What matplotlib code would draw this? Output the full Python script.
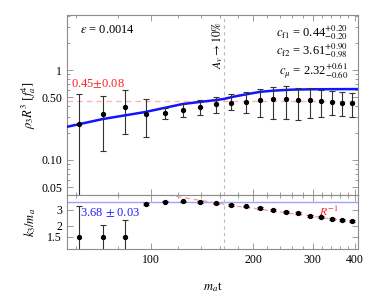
import matplotlib
matplotlib.use("Agg")
import matplotlib.pyplot as plt
from matplotlib.ticker import FixedLocator, NullFormatter, FixedFormatter, LogLocator

plt.rcParams['font.family'] = ['Liberation Serif', 'DejaVu Serif']
plt.rcParams['mathtext.fontset'] = 'stix'

# ---- data ----
t = [61.2, 72.1, 83.8, 96.4, 109.6, 124.2, 139.6, 156, 172.6, 190.6, 209.2,
     229.4, 249.5, 271.7, 293.6, 317.6, 342, 367, 392.7]
rho = [0.249, 0.322, 0.392, 0.327, 0.336, 0.362, 0.385, 0.416, 0.426, 0.444,
       0.464, 0.472, 0.476, 0.461, 0.461, 0.453, 0.437, 0.426, 0.426]
rho_hi = [0.537, 0.518, 0.594, 0.472, 0.381, 0.416, 0.464, 0.505, 0.537, 0.569,
          0.615, 0.647, 0.664, 0.631, 0.626, 0.599, 0.584, 0.565, 0.551]
rho_lo = [0.02, 0.126, 0.196, 0.18, 0.283, 0.303, 0.314, 0.335, 0.359, 0.335,
          0.30, 0.287, 0.283, 0.278, 0.29, 0.303, 0.316, 0.308, 0.303]

curve_t = [56.6, 72, 96, 124, 156, 164.5, 175, 191, 210, 229, 260, 300, 410]
curve_rho = [0.234, 0.285, 0.341, 0.419, 0.464, 0.478, 0.505, 0.537, 0.572,
             0.589, 0.605, 0.611, 0.614]

k3 = [1.5, 1.5, 1.5, 3.49, 3.71, 3.75, 3.68, 3.56, 3.40, 3.29, 3.14, 2.99,
      2.86, 2.79, 2.58, 2.52, 2.39, 2.33, 2.26]
k3_hi = [3.33, 2.05, 2.34, 3.56, 3.78, 3.82, 3.75, 3.63, 3.47, 3.36, 3.21,
         3.06, 2.92, 2.85, 2.64, 2.58, 2.45, 2.39, 2.32]
k3_lo = [0.9, 0.9, 0.9, 3.42, 3.64, 3.68, 3.61, 3.49, 3.33, 3.22, 3.07, 2.92,
         2.80, 2.73, 2.52, 2.46, 2.33, 2.27, 2.20]

rinv_t = [112, 171, 407]
rinv_k = [4.42, 3.39, 2.17]

rho_fit = 0.45
k3_fit = 3.68
t_av = 164.5

xticks_major = [100, 200, 300, 400]
xticks_minor = [60, 80, 120, 140, 160, 180, 220, 240, 260, 280, 320, 340, 360, 380]
yticks_top = [0.05, 0.1, 0.5, 1]
yticks_top_lbl = ['0.05', '0.10', '0.50', '1']
yticks_bot = [1.5, 2, 3]
yticks_bot_lbl = ['1.5', '2', '3']

# ---- figure ----
W, H = 374, 300
fig = plt.figure(figsize=(W/100, H/100), dpi=100)
L, R = 67/W, 358/W
ax1 = fig.add_axes([L, 1-195/H, R-L, (195-14.5)/H])
ax2 = fig.add_axes([L, 1-249/H, R-L, (249-195)/H])

frame_col = '#8c8c8c'
fs = 8.5

def style(ax):
    ax.set_xscale('log')
    ax.set_yscale('log')
    ax.set_xlim(56.5, 408)
    for s in ax.spines.values():
        s.set_color(frame_col)
        s.set_linewidth(0.8)
    ax.tick_params(which='both', direction='in', top=True, right=True,
                   color=frame_col, labelsize=fs, width=0.6)
    ax.tick_params(which='major', length=4)
    ax.tick_params(which='minor', length=2)
    ax.xaxis.set_major_locator(FixedLocator(xticks_major))
    ax.xaxis.set_minor_locator(FixedLocator(xticks_minor))
    ax.xaxis.set_minor_formatter(NullFormatter())

style(ax1)
style(ax2)

# top panel
ax1.set_ylim(0.0408, 4.14)
ax1.yaxis.set_major_locator(FixedLocator(yticks_top))
ax1.yaxis.set_major_formatter(FixedFormatter(yticks_top_lbl))
ax1.yaxis.set_minor_locator(LogLocator(base=10, subs=[2, 3, 4, 6, 7, 8, 9]))
ax1.yaxis.set_minor_formatter(NullFormatter())
ax1.xaxis.set_major_formatter(NullFormatter())

ax1.axhline(rho_fit, color='#ffb3b3', ls=(0, (4, 3)), lw=1.0, zorder=1)
ax1.axvline(t_av, color='#bbbbbb', ls=(0, (3, 3)), lw=0.8, zorder=1)
ax1.plot(curve_t, curve_rho, color='#1414ff', lw=1.8, zorder=3)
yerr1 = [[r - lo for r, lo in zip(rho, rho_lo)], [hi - r for r, hi in zip(rho, rho_hi)]]
ax1.errorbar(t, rho, yerr=yerr1, fmt='o', color='black', ms=2.8,
             ecolor='#333333', elinewidth=0.8, capsize=2.5, capthick=0.8, zorder=4)

ax1.set_ylabel(r'$\rho_3 R^3\ [f_a^4]$', fontsize=fs+0.5)
ax1.yaxis.set_label_coords(-0.1, 0.5)

ax1.text(0.045, 0.915, r'$\epsilon$ = 0.0014', transform=ax1.transAxes, fontsize=fs+0.5,
         va='center', ha='left')
ax1.text(0.015, 0.615, r'0.45$\pm$0.08', transform=ax1.transAxes, fontsize=fs+0.5,
         color='#ff2020', va='center', ha='left')
ax1.text(0.965, 0.9, r'$c_{\rm f1}$ = 0.44$^{+0.20}_{-0.20}$', transform=ax1.transAxes,
         fontsize=fs+0.5, ha='right', va='center')
ax1.text(0.965, 0.8, r'$c_{\rm f2}$ = 3.61$^{+0.90}_{-0.98}$', transform=ax1.transAxes,
         fontsize=fs+0.5, ha='right', va='center')
ax1.text(0.965, 0.69, r'$c_{\mu}$ = 2.32$^{+0.61}_{-0.60}$', transform=ax1.transAxes,
         fontsize=fs+0.5, ha='right', va='center')
ax1.text(157, 1.9, r'$A_v \rightarrow 10\%$', rotation=90, fontsize=fs, ha='center',
         va='center')

# bottom panel
ax2.set_ylim(1.09, 4.42)
ax2.yaxis.set_major_locator(FixedLocator(yticks_bot))
ax2.yaxis.set_major_formatter(FixedFormatter(yticks_bot_lbl))
ax2.yaxis.set_minor_locator(FixedLocator([]))
ax2.xaxis.set_major_formatter(FixedFormatter([str(v) for v in xticks_major]))

ax2.axhline(k3_fit, color='#a0a0ff', lw=1.0, zorder=1)
ax2.axvline(t_av, color='#bbbbbb', ls=(0, (3, 3)), lw=0.8, zorder=1)
ax2.plot(rinv_t, rinv_k, color='#ff9999', ls=(0, (4, 3)), lw=0.9, zorder=2)
yerr2 = [[k - lo for k, lo in zip(k3, k3_lo)], [hi - k for k, hi in zip(k3, k3_hi)]]
ax2.errorbar(t, k3, yerr=yerr2, fmt='o', color='black', ms=2.8,
             ecolor='#333333', elinewidth=0.8, capsize=2.2, capthick=0.8, zorder=4)

ax2.set_ylabel(r'$k_3/m_a$', fontsize=fs+0.5)
ax2.yaxis.set_label_coords(-0.1, 0.5)
ax2.set_xlabel(r'$m_a$t', fontsize=fs+0.5, labelpad=10)

ax2.text(0.045, 0.67, r'3.68 $\pm$ 0.03', transform=ax2.transAxes, fontsize=fs+0.5,
         color='#2020ff', va='center', ha='left')
ax2.text(0.9, 0.68, r'$R^{-1}$', transform=ax2.transAxes, fontsize=fs,
         color='#ff2020', va='center', ha='center')

fig.savefig('out.png', dpi=100)
